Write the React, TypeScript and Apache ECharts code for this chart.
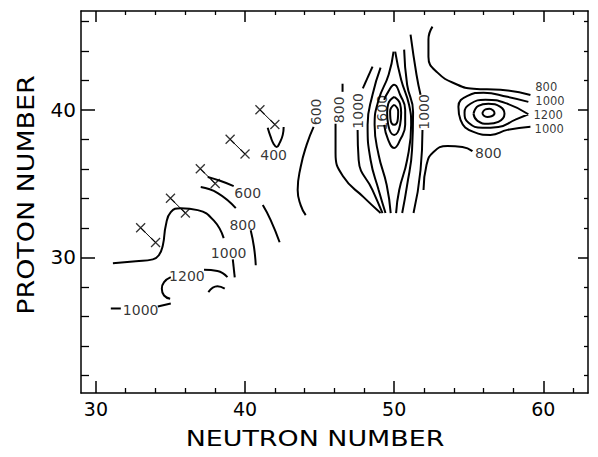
import React, { useEffect, useRef } from "react";
import * as echarts from "echarts";

// ---------- axis ticks ----------
const xTickMajor = [30, 40, 50, 60];
const xTickMinor = [32, 34, 36, 38, 42, 44, 46, 48, 52, 54, 56, 58, 62];
const yTickMajor = [30, 40];
const yTickMinor = [22, 24, 26, 28, 32, 34, 36, 38, 42, 44, 46];
const xTitle = "NEUTRON NUMBER";
const yTitle = "PROTON NUMBER";

// ---------- contour segments [N, Z] ----------
const c1000LeftA = [[31.14, 29.6], [32.68, 29.73], [33.82, 29.86], [34.22, 30.14], [34.49, 30.82], [34.69, 32.18], [35.02, 33.06], [35.69, 33.33], [36.83, 33.2], [37.9, 32.5], [38.57, 31.3]];
const c1000LeftB = [[39.18, 29.86], [39.31, 28.64]];
const c1000BottomA = [[31.0, 26.53], [31.67, 26.53]];
const c1000BottomB = [[34.15, 26.67], [35.02, 26.87]];
const c1200LeftA = [[35.02, 28.66], [34.57, 28.32], [34.42, 27.87], [34.57, 27.41], [34.98, 27.19]];
const c1200LeftB = [[37.25, 29.16], [38.15, 29.07], [38.82, 28.66]];
const c1400Left = [[37.54, 27.64], [38.15, 28.03], [38.64, 27.87]];
const c800LeftA = [[37.03, 34.76], [38.17, 34.35], [39.38, 33.33]];
const c800LeftB = [[40.38, 31.84], [40.6, 30.7], [40.72, 29.46]];
const c600LeftA = [[37.5, 35.44], [38.37, 35.17], [39.24, 34.83]];
const c600LeftB = [[41.19, 33.54], [41.72, 32.52], [42.32, 31.02]];
const c400 = [[41.52, 38.78], [41.72, 38.16], [41.92, 37.69], [42.12, 37.48], [42.32, 37.76], [42.53, 38.3], [42.59, 38.84]];
const c600Mid = [[44.6, 38.84], [44.13, 37.62], [43.73, 36.12], [43.53, 34.56], [43.73, 33.54], [44.07, 32.86]];
const c800MidTop = [[46.54, 41.77], [46.54, 41.22]];
const c800Mid = [[46.07, 39.05], [46.07, 37.07], [46.61, 35.44], [47.95, 34.08], [49.09, 33.0]];
const c1000MidTop = [[47.9, 41.45], [48.55, 42.93]];
const c1000Mid = [[47.55, 38.64], [47.62, 36.6], [48.55, 34.56], [49.22, 33.0]];
const c1200MidL = [[49.09, 42.86], [48.55, 41.02], [48.22, 38.98], [48.42, 36.6], [48.96, 34.56], [49.42, 33.0]];
const c1400MidL = [[49.96, 43.95], [49.63, 42.38], [48.96, 40.68], [48.69, 38.98], [48.96, 36.94], [49.5, 34.9], [49.77, 33.0]];
const c1400MidR = [[50.07, 43.95], [50.47, 42.04], [51.0, 40.34], [51.14, 38.98], [50.87, 36.6], [50.34, 34.56], [50.13, 33.0]];
const c1200MidR = [[50.67, 44.08], [50.87, 41.7], [51.27, 39.86], [51.2, 37.28], [50.87, 34.9], [50.54, 33.0]];
const c1000MidRTop = [[51.1, 45.1], [51.5, 42.38], [51.77, 41.02]];
const c1000MidR = [[51.9, 38.64], [51.77, 35.92], [51.3, 33.0]];
const c1600Mid = [[49.33, 38.98], [49.6, 37.96], [50.0, 37.41], [50.4, 37.96], [50.74, 38.98], [50.74, 40.0], [50.4, 41.02], [50.0, 41.7], [49.6, 41.22], [49.33, 40.68]];
const c1800Mid = [[50.0, 40.88], [50.4, 40.4], [50.47, 39.8], [50.4, 39.0], [50.0, 38.3], [49.6, 39.0], [49.53, 39.8], [49.6, 40.4], [50.0, 40.88]];
const c2000Mid = [[50.0, 40.34], [50.27, 39.9], [50.25, 39.4], [50.0, 38.98], [49.75, 39.4], [49.73, 39.9], [50.0, 40.34]];
const c800RightTop = [[52.57, 45.64], [52.3, 44.76], [52.3, 43.6], [52.91, 42.52], [54.25, 41.7], [55.32, 41.43], [57.13, 41.36], [59.14, 41.0]];
const c1000Right = [[59.0, 40.54], [57.6, 40.88], [55.99, 41.16], [54.92, 40.95], [54.31, 40.2], [54.45, 39.32], [55.32, 38.5], [56.46, 38.3], [57.6, 38.64], [59.14, 38.85]];
const c1200Right = [[59.0, 39.7], [57.6, 40.41], [56.12, 40.68], [55.12, 40.41], [54.72, 39.8], [54.99, 39.12], [55.92, 38.78], [56.99, 38.84], [58.13, 39.33], [59.0, 39.7]];
const c1400Right = [[55.32, 39.73], [55.65, 40.27], [56.32, 40.41], [57.13, 40.2], [57.4, 39.73], [56.99, 39.18], [56.32, 39.05], [55.59, 39.25], [55.32, 39.73]];
const c1600Right = [[55.92, 39.8], [56.12, 40.03], [56.39, 40.07], [56.66, 39.93], [56.73, 39.76], [56.53, 39.56], [56.25, 39.52], [55.99, 39.63], [55.92, 39.8]];
const c800RightLow = [[51.97, 34.56], [52.17, 36.26], [52.64, 37.14], [53.58, 37.55], [54.58, 37.48], [55.25, 37.2]];

const contourSegments = [
  c1000LeftA, c1000LeftB, c1000BottomA, c1000BottomB, c1200LeftA, c1200LeftB, c1400Left,
  c800LeftA, c800LeftB, c600LeftA, c600LeftB, c400, c600Mid, c800MidTop, c800Mid,
  c1000MidTop, c1000Mid, c1200MidL, c1400MidL, c1400MidR, c1200MidR, c1000MidRTop, c1000MidR,
  c1600Mid, c1800Mid, c2000Mid, c800RightTop, c1000Right, c1200Right, c1400Right, c1600Right, c800RightLow,
];

// ---------- contour labels ----------
const labelTexts = ["1000", "1000", "1200", "800", "600", "400", "600", "800", "1000", "1600", "1000", "800", "1000", "1200", "1000", "800"];
const labelPos = [[38.9, 30.3], [33.0, 26.46], [36.1, 28.71], [39.85, 32.18], [40.18, 34.35], [41.92, 36.94], [44.74, 39.86], [46.28, 40.0], [47.55, 39.93], [49.2, 39.8], [51.97, 39.86], [60.2, 41.56], [60.45, 40.61], [60.33, 39.66], [60.4, 38.71], [56.32, 37.07]];
const labelRotate = [0, 0, 0, 0, 0, 0, 90, 90, 90, 90, 90, 0, 0, 0, 0, 0];
const labelSize = [14, 14, 14, 14, 14, 14, 14, 14, 14, 14, 14, 11.5, 11.5, 11.5, 11.5, 14];

// ---------- measured nuclei (crosses), paired ----------
const crossA = [[33, 32], [35, 34], [37, 36], [39, 38], [41, 40]];
const crossB = [[34, 31], [36, 33], [38, 35], [40, 37], [42, 39]];

const FONT = "DejaVu Sans";

export default function App() {
  const ref = useRef<HTMLDivElement>(null);
  useEffect(() => {
    const chart = echarts.init(ref.current!, null, { renderer: "svg" });
    const lineColor = "#000";
    const baseX = { type: "value", min: 29, max: 63, gridIndex: 0, splitLine: { show: false } };
    const baseY = { type: "value", min: 20.8, max: 46.7, gridIndex: 0, splitLine: { show: false } };
    const series: any[] = [];
    contourSegments.forEach((seg) => {
      series.push({
        type: "line", data: seg, smooth: 0.5, symbol: "none", silent: true,
        lineStyle: { color: lineColor, width: 2 },
      });
    });
    crossA.forEach((a, i) => {
      series.push({
        type: "line", data: [a, crossB[i]], symbol: "none", silent: true,
        lineStyle: { color: lineColor, width: 1 },
      });
    });
    series.push({
      type: "scatter", data: [...crossA, ...crossB], silent: true,
      symbol: "path://M0 0L10 10M10 0L0 10", symbolSize: 9,
      itemStyle: { color: "none", borderColor: lineColor, borderWidth: 1.3 },
    });
    series.push({
      type: "scatter", silent: true, symbolSize: 0,
      data: labelTexts.map((t, i) => ({
        name: t, value: labelPos[i],
        label: { rotate: labelRotate[i], fontSize: labelSize[i], lineHeight: labelSize[i] < 13 ? 11 : 13 },
      })),
      label: {
        show: true, position: "inside", formatter: "{b}", color: "#000",
        fontFamily: FONT, fontSize: 14,
      },
    });
    chart.setOption({
      animation: false,
      backgroundColor: "#fff",
      grid: { left: 81, right: 10, top: 11, bottom: 64 },
      graphic: [
        {
          type: "text", x: 315, y: 439, scaleX: 1.28, silent: true,
          style: { text: xTitle, fontFamily: FONT, fontSize: 21, fill: "#000", align: "center", verticalAlign: "middle" },
        },
        {
          type: "text", x: 26, y: 195, rotation: Math.PI / 2, scaleX: 1.17, silent: true,
          style: { text: yTitle, fontFamily: FONT, fontSize: 23, fill: "#000", align: "center", verticalAlign: "middle" },
        },
      ],
      xAxis: [
        {
          ...baseX, position: "bottom",
          axisLine: { show: true, lineStyle: { color: "#000", width: 1.5 } },
          axisTick: { show: true, inside: true, length: 12, customValues: xTickMajor, lineStyle: { color: "#000", width: 1.5 } },
          axisLabel: { show: true, customValues: xTickMajor, color: "#000", fontFamily: FONT, fontSize: 19, margin: 6 },
        },
        {
          ...baseX, position: "bottom", axisLine: { show: false },
          axisTick: { show: true, inside: true, length: 5, customValues: xTickMinor, lineStyle: { color: "#000", width: 1.3 } },
          axisLabel: { show: false },
        },
        {
          ...baseX, position: "top",
          axisLine: { show: true, lineStyle: { color: "#000", width: 1.5 } },
          axisTick: { show: true, inside: true, length: 11, customValues: xTickMajor, lineStyle: { color: "#000", width: 1.5 } },
          axisLabel: { show: false },
        },
        {
          ...baseX, position: "top", axisLine: { show: false },
          axisTick: { show: true, inside: true, length: 4, customValues: xTickMinor, lineStyle: { color: "#000", width: 1.3 } },
          axisLabel: { show: false },
        },
      ],
      yAxis: [
        {
          ...baseY, position: "left",
          axisLine: { show: true, lineStyle: { color: "#000", width: 1.5 } },
          axisTick: { show: true, inside: true, length: 14, customValues: yTickMajor, lineStyle: { color: "#000", width: 1.5 } },
          axisLabel: { show: true, customValues: yTickMajor, color: "#000", fontFamily: FONT, fontSize: 20, margin: 5 },
        },
        {
          ...baseY, position: "left", axisLine: { show: false },
          axisTick: { show: true, inside: true, length: 8, customValues: yTickMinor, lineStyle: { color: "#000", width: 1.3 } },
          axisLabel: { show: false },
        },
        {
          ...baseY, position: "right",
          axisLine: { show: true, lineStyle: { color: "#000", width: 1.5 } },
          axisTick: { show: true, inside: true, length: 10, customValues: yTickMajor, lineStyle: { color: "#000", width: 1.5 } },
          axisLabel: { show: false },
        },
        {
          ...baseY, position: "right", axisLine: { show: false },
          axisTick: { show: true, inside: true, length: 4, customValues: yTickMinor, lineStyle: { color: "#000", width: 1.3 } },
          axisLabel: { show: false },
        },
      ],
      series,
    });
    return () => chart.dispose();
  }, []);
  return <div ref={ref} style={{ position: "absolute", left: 0, top: 0, width: 598, height: 457 }} />;
}
